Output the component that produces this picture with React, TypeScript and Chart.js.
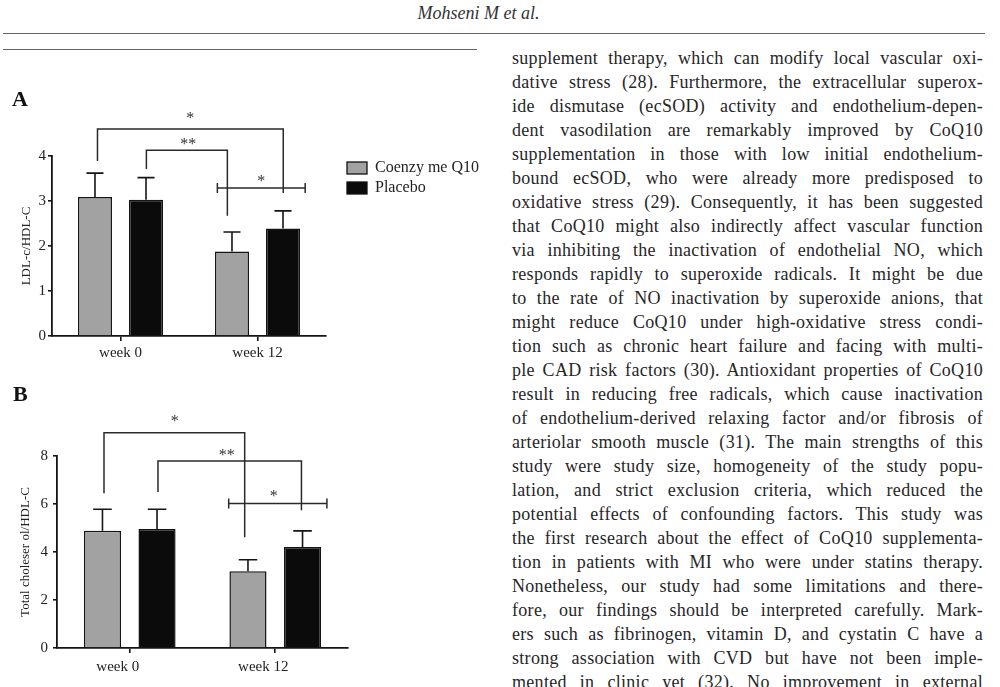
import React, { useEffect, useRef } from "react";
import { Chart, registerables } from "chart.js";

Chart.register(...registerables);

// ---------- data ----------
const categories = ["week 0", "week 12"];
const seriesNames = ["Coenzy me Q10", "Placebo"];
const seriesColors = ["#a2a2a2", "#0b0b0b"];

const ldlCoq = [3.09, 1.88];
const ldlPlacebo = [3.03, 2.39];
const ldlCoqErr = [0.53, 0.43];
const ldlPlaceboErr = [0.49, 0.39];
const ldlTicks = [0, 1, 2, 3, 4];

const tcCoq = [4.89, 3.2];
const tcPlacebo = [4.96, 4.21];
const tcCoqErr = [0.89, 0.48];
const tcPlaceboErr = [0.82, 0.67];
const tcTicks = [0, 2, 4, 6, 8];

// significance brackets (x in category units, y in value units)
const ldlBrackets = [
  { x1: -0.168, x2: 1.188, y: 4.6, leg1: 3.89, leg2: 3.18, caps: false, label: "*", lx: 0.51, ly: 4.91 },
  { x1: 0.189, x2: 0.78, y: 4.13, leg1: 3.71, leg2: 2.67, caps: false, label: "**", lx: 0.495, ly: 4.33 },
  { x1: 0.707, x2: 1.348, y: 3.29, leg1: 0, leg2: 0, caps: true, label: "*", lx: 1.027, ly: 3.51 },
];
const tcBrackets = [
  { x1: -0.177, x2: 0.79, y: 8.97, leg1: 6.45, leg2: 4.61, caps: false, label: "*", lx: 0.31, ly: 9.6 },
  { x1: 0.194, x2: 1.18, y: 7.79, leg1: 6.5, leg2: 5.74, caps: false, label: "**", lx: 0.667, ly: 8.15 },
  { x1: 0.68, x2: 1.355, y: 6.02, leg1: 0, leg2: 0, caps: true, label: "*", lx: 0.99, ly: 6.45 },
];

const bodyLines = [
  "supplement therapy, which can modify local vascular oxi-",
  "dative stress (28). Furthermore, the extracellular superox-",
  "ide dismutase (ecSOD) activity and endothelium-depen-",
  "dent vasodilation are remarkably improved by CoQ10",
  "supplementation in those with low initial endothelium-",
  "bound ecSOD, who were already more predisposed to",
  "oxidative stress (29). Consequently, it has been suggested",
  "that CoQ10 might also indirectly affect vascular function",
  "via inhibiting the inactivation of endothelial NO, which",
  "responds rapidly to superoxide radicals. It might be due",
  "to the rate of NO inactivation by superoxide anions, that",
  "might reduce CoQ10 under high-oxidative stress condi-",
  "tion such as chronic heart failure and facing with multi-",
  "ple CAD risk factors (30). Antioxidant properties of CoQ10",
  "result in reducing free radicals, which cause inactivation",
  "of endothelium-derived relaxing factor and/or fibrosis of",
  "arteriolar smooth muscle (31). The main strengths of this",
  "study were study size, homogeneity of the study popu-",
  "lation, and strict exclusion criteria, which reduced the",
  "potential effects of confounding factors. This study was",
  "the first research about the effect of CoQ10 supplementa-",
  "tion in patients with MI who were under statins therapy.",
  "Nonetheless, our study had some limitations and there-",
  "fore, our findings should be interpreted carefully. Mark-",
  "ers such as fibrinogen, vitamin D, and cystatin C have a",
  "strong association with CVD but have not been imple-",
  "mented in clinic yet (32). No improvement in external",
];

const SERIF = "'Liberation Serif', 'Times New Roman', serif";

// ---------- overlay plugin ----------
const overlayPlugin = {
  id: "overlay",
  afterDatasetsDraw(chart: any, _args: any, opts: any) {
    const ctx = chart.ctx as CanvasRenderingContext2D;
    const xs = chart.scales.x;
    const ys = chart.scales.y;
    ctx.save();
    ctx.strokeStyle = "#151515";
    ctx.lineWidth = 1.6;
    // error bars (upper only)
    chart.data.datasets.forEach((ds: any, di: number) => {
      const meta = chart.getDatasetMeta(di);
      const errs = opts.errors[di];
      meta.data.forEach((bar: any, i: number) => {
        const v = ds.data[i];
        const base = ys.getPixelForValue(v);
        const top = ys.getPixelForValue(v + errs[i]);
        const half = bar.width / 4;
        ctx.beginPath();
        ctx.moveTo(bar.x, base);
        ctx.lineTo(bar.x, top);
        ctx.moveTo(bar.x - half, top);
        ctx.lineTo(bar.x + half, top);
        ctx.stroke();
      });
    });
    // brackets
    ctx.strokeStyle = "#2a2a2a";
    ctx.lineWidth = 1.5;
    ctx.fillStyle = "#333";
    ctx.font = `16px ${SERIF}`;
    ctx.textAlign = "center";
    ctx.textBaseline = "alphabetic";
    opts.brackets.forEach((b: any) => {
      const x1 = xs.getPixelForValue(b.x1);
      const x2 = xs.getPixelForValue(b.x2);
      const y = ys.getPixelForValue(b.y);
      ctx.beginPath();
      if (b.caps) {
        ctx.moveTo(x1, y);
        ctx.lineTo(x2, y);
        ctx.moveTo(x1, y - 5);
        ctx.lineTo(x1, y + 5);
        ctx.moveTo(x2, y - 5);
        ctx.lineTo(x2, y + 5);
      } else {
        ctx.moveTo(x1, ys.getPixelForValue(b.leg1));
        ctx.lineTo(x1, y);
        ctx.lineTo(x2, y);
        ctx.lineTo(x2, ys.getPixelForValue(b.leg2));
      }
      ctx.stroke();
      ctx.fillText(b.label, xs.getPixelForValue(b.lx), ys.getPixelForValue(b.ly) + 8);
    });
    // panel letter
    ctx.fillStyle = "#111";
    ctx.font = `bold 22px ${SERIF}`;
    ctx.textAlign = "left";
    ctx.textBaseline = "middle";
    ctx.fillText(opts.letter, opts.letterX, opts.letterY);
    // legend
    if (opts.legend) {
      const L = opts.legend;
      chart.data.datasets.forEach((ds: any, di: number) => {
        const ly = L.y + di * L.gap;
        ctx.fillStyle = ds.backgroundColor;
        ctx.fillRect(L.x, ly - 6, 20, 12);
        ctx.strokeStyle = "#111";
        ctx.lineWidth = 1.3;
        ctx.strokeRect(L.x, ly - 6, 20, 12);
        ctx.fillStyle = "#222";
        ctx.font = `16px ${SERIF}`;
        ctx.textAlign = "left";
        ctx.textBaseline = "middle";
        ctx.fillText(ds.label, L.x + 28, ly);
      });
    }
    ctx.restore();
  },
};

type PanelCfg = {
  width: number;
  height: number;
  coq: number[];
  placebo: number[];
  coqErr: number[];
  placeboErr: number[];
  ticks: number[];
  title: string;
  padTop: number;
  padRight: number;
  yWidth: number;
  xHeight: number;
  titlePad: number;
  yTickPad: number;
  xTickPad: number;
  labelOffset: number;
  catPct: number;
  barPct: number;
  brackets: any[];
  letter: string;
  letterX: number;
  letterY: number;
  legend: any;
};

function Panel({ cfg }: { cfg: PanelCfg }) {
  const ref = useRef<HTMLCanvasElement>(null);
  useEffect(() => {
    if (!ref.current) return;
    const tickFont = { family: SERIF, size: 15 };
    const chart = new Chart(ref.current, {
      type: "bar",
      data: {
        labels: categories,
        datasets: [
          {
            label: seriesNames[0],
            data: cfg.coq,
            backgroundColor: seriesColors[0],
            borderColor: "#151515",
            borderWidth: 1.5,
            categoryPercentage: cfg.catPct,
            barPercentage: cfg.barPct,
          },
          {
            label: seriesNames[1],
            data: cfg.placebo,
            backgroundColor: seriesColors[1],
            borderColor: "#151515",
            borderWidth: 1.5,
            categoryPercentage: cfg.catPct,
            barPercentage: cfg.barPct,
          },
        ],
      },
      options: {
        animation: false,
        responsive: false,
        maintainAspectRatio: false,
        layout: { padding: { top: cfg.padTop, right: cfg.padRight, left: 0, bottom: 0 } },
        plugins: {
          legend: { display: false },
          tooltip: { enabled: false },
          overlay: {
            errors: [cfg.coqErr, cfg.placeboErr],
            brackets: cfg.brackets,
            letter: cfg.letter,
            letterX: cfg.letterX,
            letterY: cfg.letterY,
            legend: cfg.legend,
          },
        } as any,
        scales: {
          x: {
            type: "category",
            offset: true,
            grid: {
              display: true,
              drawOnChartArea: false,
              drawTicks: true,
              tickLength: 5,
              offset: false,
              color: "#151515",
              lineWidth: 1.6,
            },
            border: { display: true, color: "#151515", width: 1.8 },
            ticks: {
              font: tickFont,
              color: "#222",
              padding: cfg.xTickPad,
              labelOffset: cfg.labelOffset,
            },
            afterFit: (s: any) => {
              s.height = cfg.xHeight;
            },
          },
          y: {
            min: 0,
            max: cfg.ticks[cfg.ticks.length - 1],
            afterBuildTicks: (s: any) => {
              s.ticks = cfg.ticks.map((v) => ({ value: v }));
            },
            grid: {
              display: true,
              drawOnChartArea: false,
              drawTicks: true,
              tickLength: 4,
              color: "#151515",
              lineWidth: 1.6,
            },
            border: { display: true, color: "#151515", width: 1.8 },
            ticks: { font: { family: SERIF, size: 15 }, color: "#222", padding: cfg.yTickPad },
            title: {
              display: true,
              text: cfg.title,
              font: { family: SERIF, size: 13 },
              color: "#222",
              padding: { top: cfg.titlePad, bottom: 0 },
            },
            afterFit: (s: any) => {
              s.width = cfg.yWidth;
            },
          },
        },
      } as any,
      plugins: [overlayPlugin as any],
    });
    return () => chart.destroy();
  }, [cfg]);
  return <canvas ref={ref} width={cfg.width} height={cfg.height} style={{ display: "block" }} />;
}

const panelA: PanelCfg = {
  width: 490,
  height: 310,
  coq: ldlCoq,
  placebo: ldlPlacebo,
  coqErr: ldlCoqErr,
  placeboErr: ldlPlaceboErr,
  ticks: ldlTicks,
  title: "LDL-c/HDL-C",
  padTop: 96,
  padRight: 164,
  yWidth: 52,
  xHeight: 34,
  titlePad: 19,
  yTickPad: 2,
  xTickPad: 3,
  labelOffset: 0,
  catPct: 0.745,
  barPct: 0.667,
  brackets: ldlBrackets,
  letter: "A",
  letterX: 12,
  letterY: 40,
  legend: { x: 347, y: 108, gap: 20 },
};

const panelB: PanelCfg = {
  width: 490,
  height: 307,
  coq: tcCoq,
  placebo: tcPlacebo,
  coqErr: tcCoqErr,
  placeboErr: tcPlaceboErr,
  ticks: tcTicks,
  title: "Total choleser ol/HDL-C",
  padTop: 76,
  padRight: 142,
  yWidth: 57,
  xHeight: 39,
  titlePad: 18,
  yTickPad: 5,
  xTickPad: 5,
  labelOffset: -12,
  catPct: 0.75,
  barPct: 0.68,
  brackets: tcBrackets,
  letter: "B",
  letterX: 13,
  letterY: 15,
  legend: null,
};

export default function App() {
  return (
    <div
      style={{
        position: "fixed",
        left: 0,
        top: 0,
        width: 1000,
        height: 687,
        background: "#fff",
        overflow: "hidden",
        fontFamily: SERIF,
      }}
    >
      <div
        style={{
          position: "absolute",
          left: 0,
          width: 957,
          top: 3,
          textAlign: "center",
          fontStyle: "italic",
          fontSize: 18,
          lineHeight: "20px",
          color: "#333",
        }}
      >
        Mohseni M et al.
      </div>
      <div style={{ position: "absolute", left: 3, top: 33, width: 982, height: 0, borderTop: "1.5px solid #666" }} />
      <div style={{ position: "absolute", left: 3, top: 49, width: 474, height: 0, borderTop: "1.5px solid #666" }} />

      <div style={{ position: "absolute", left: 0, top: 60 }}>
        <Panel cfg={panelA} />
      </div>
      <div style={{ position: "absolute", left: 0, top: 380 }}>
        <Panel cfg={panelB} />
      </div>

      <div style={{ position: "absolute", left: 512, top: 46, width: 471 }}>
        {bodyLines.map((t, i) => (
          <div
            key={i}
            style={{
              height: 24,
              lineHeight: "24px",
              fontSize: 18,
              letterSpacing: "0.3px",
              color: "#262626",
              whiteSpace: "nowrap",
              textAlign: "justify",
              textAlignLast: "justify",
            }}
          >
            {t}
          </div>
        ))}
      </div>
    </div>
  );
}
